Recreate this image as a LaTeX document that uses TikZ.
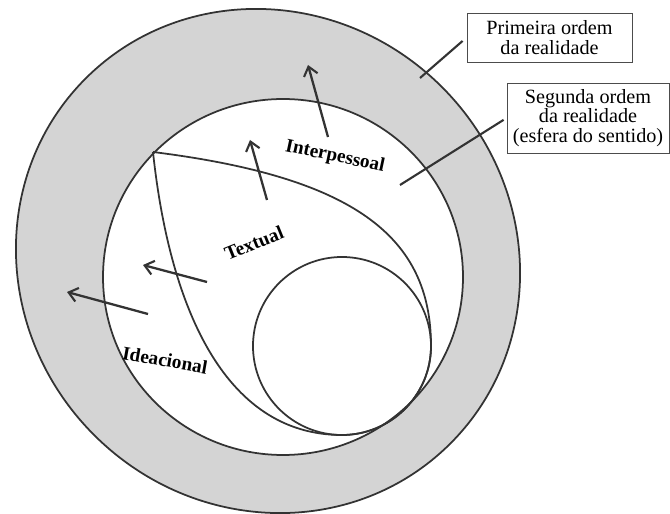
\documentclass[tikz,border=0pt]{standalone}
\usepackage{fontspec}
\setmainfont{Liberation Serif}
\usetikzlibrary{arrows.meta,positioning}
\tikzset{
ring/.style={draw=black!80, line width=1pt}, % the ellipse and circle outlines
outarrow/.style={draw=black!80, line width=1.3pt, -{Straight Barb[length=5pt,width=8pt,line width=1.2pt]}},
orderbox/.style={draw=black!70, line width=0.5pt, align=center, inner sep=0pt, font=\fontsize{11.5}{11.2}\selectfont},
metalabel/.style={font=\bfseries\fontsize{11}{12}\selectfont, inner sep=0pt},
leader/.style={draw=black!80, line width=1.2pt}
}

\begin{document}
\begin{tikzpicture}[x=0.02cm, y=0.02cm]
        \useasboundingbox (0,0) rectangle (670,514);
        % first order: the grey ring
        \filldraw [ring, fill=black!17, rotate around={-45:(268,253)}] (268,253) ellipse (258 and 246);
        % second order: the white sphere
        \filldraw [ring, fill=white] (283,237) ellipse (180 and 178);
        % the drop and the small circle inside it
        \draw [ring] (153,362) .. controls (353,337) and (431,278) .. (431,168)
              arc [start angle=0, end angle=-90, radius=89]
              .. controls (222,79) and (169,212) .. (153,362);
        \draw [ring] (342,168) circle (89);
        % arrows pointing outwards
        \draw [outarrow] (328,377) -- (308,449);
        \draw [outarrow] (267,314) -- (250,374);
        \draw [outarrow] (207,232) -- (143,249);
        \draw [outarrow] (148,200) -- (67,222);
        % labels of the metafunctions
        \node [metalabel, rotate=-12] (interp) at (335,357) {Interpessoal};
        \node [metalabel, rotate=22] (textual) at (254,271) {Textual};
        \node [metalabel, rotate=-10] (idea) at (165,154) {Ideacional};
        % the two boxes and their leaders
        \node [orderbox, minimum width=3.3cm, minimum height=0.98cm] (first) at (549.5,476.5) {Primeira ordem\\da realidade};
        \node [orderbox, minimum width=3.24cm, minimum height=1.4cm] (second) at (588,396) {Segunda ordem\\da realidade\\(esfera do sentido)};
        \coordinate (firstend) at (420,436);
        \coordinate (secondend) at (400,329);
        \draw [leader, shorten >=3pt] (firstend) -- (first.west);
        \draw [leader, shorten >=2pt] (secondend) -- (second.west);
\end{tikzpicture}
\end{document}
